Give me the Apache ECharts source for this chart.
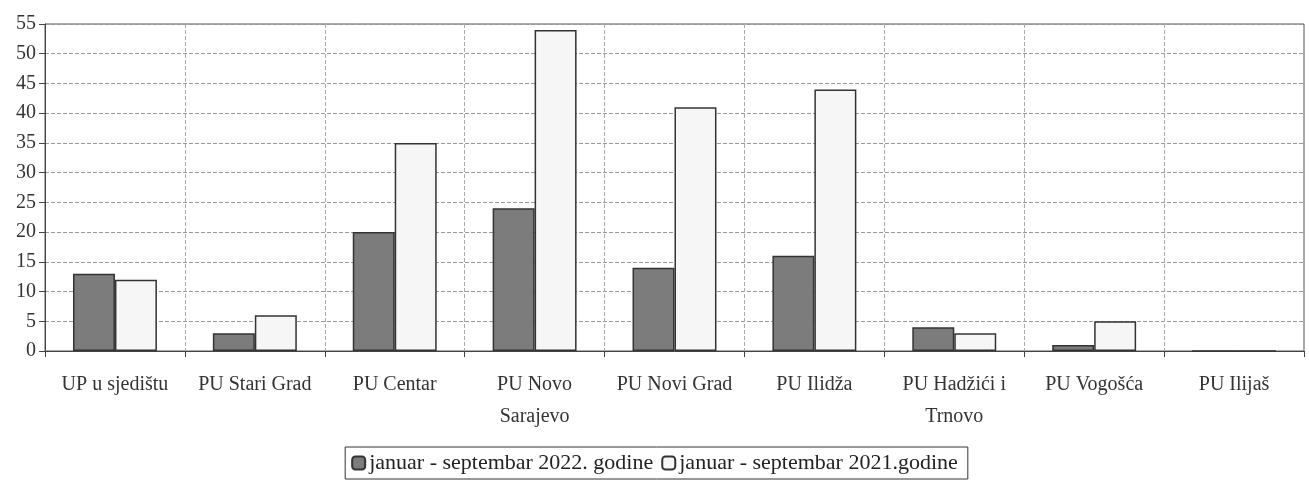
<!DOCTYPE html>
<html>
<head>
<meta charset="utf-8">
<script src="https://cdn.jsdelivr.net/npm/echarts@6/dist/echarts.min.js"></script>
<style>
  html, body { margin: 0; padding: 0; background: #fff; }
  #chart { width: 1309px; height: 499px; }
</style>
</head>
<body>
<div id="chart"></div>
<script>
const categories = [
  "UP u sjedištu", "PU Stari Grad", "PU Centar", "PU Novo\nSarajevo",
  "PU Novi Grad", "PU Ilidža", "PU Hadžići i\nTrnovo", "PU Vogošća", "PU Ilijaš"
];
const seriesNames = ["januar - septembar 2022. godine", "januar - septembar 2021.godine"];
const values2022 = [13, 3, 20, 24, 14, 16, 4, 1, 0];
const values2021 = [12, 6, 35, 54, 41, 44, 3, 5, 0];

const font = "Liberation Serif";
const chart = echarts.init(document.getElementById("chart"));

chart.setOption({
  animation: false,
  textStyle: { fontFamily: font },
  grid: {
    left: 45, top: 24, width: 1259, height: 327,
    show: true, borderColor: "#555", borderWidth: 1
  },
  legend: {
    top: 447,
    left: "center",
    itemWidth: 13,
    itemHeight: 13,
    itemGap: 8,
    borderColor: "#333",
    borderWidth: 1,
    padding: [5, 10, 5, 6],
    textStyle: { fontFamily: font, fontSize: 22, color: "#222", padding: [0, 0, 0, -1] },
    data: seriesNames
  },
  xAxis: {
    type: "category",
    data: categories,
    axisLine: { lineStyle: { color: "#444" } },
    axisTick: { show: true, interval: 0, length: 6, lineStyle: { color: "#444" } },
    axisLabel: {
      interval: 0, margin: 18, fontFamily: font, fontSize: 20, color: "#333", lineHeight: 32
    },
    splitLine: { show: true, interval: 0, lineStyle: { type: "dashed", color: "#aaa" } }
  },
  yAxis: {
    type: "value",
    min: 0, max: 55, interval: 5,
    axisLine: { show: true, lineStyle: { color: "#444" } },
    axisTick: { show: true, length: 6, lineStyle: { color: "#444" } },
    axisLabel: { fontFamily: font, fontSize: 20, color: "#333", margin: 9 },
    splitLine: { lineStyle: { type: "dashed", color: "#999" } }
  },
  series: [
    {
      name: seriesNames[0],
      type: "bar",
      data: values2022,
      barGap: "0%",
      barCategoryGap: "40%",
      itemStyle: { color: "#7c7c7c", borderColor: "#333", borderWidth: 1.5 }
    },
    {
      name: seriesNames[1],
      type: "bar",
      data: values2021,
      itemStyle: { color: "#f6f6f6", borderColor: "#333", borderWidth: 1.5 }
    }
  ]
});
</script>
</body>
</html>
